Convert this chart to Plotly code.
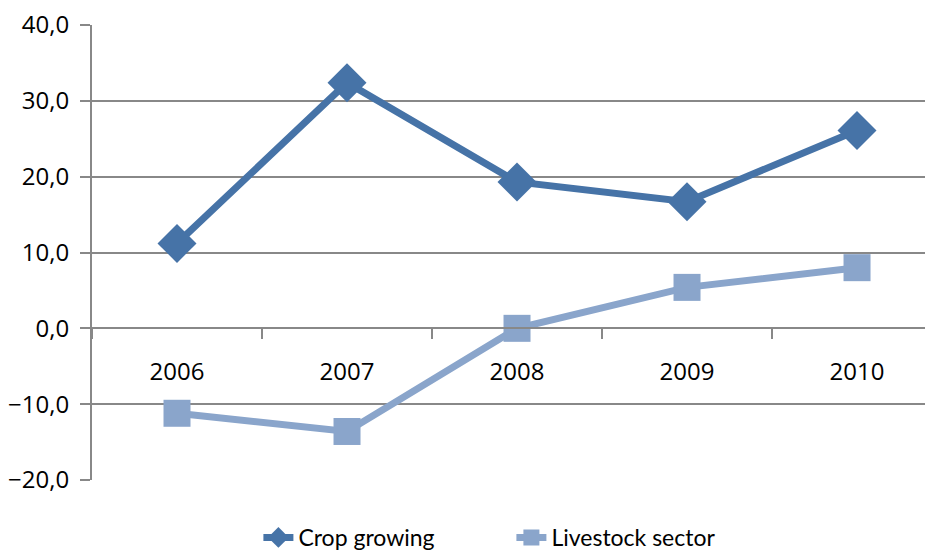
import plotly.graph_objects as go

years = ["2006", "2007", "2008", "2009", "2010"]
crop_growing = [11.2, 32.4, 19.3, 16.7, 26.1]
livestock_sector = [-11.2, -13.6, 0.0, 5.4, 8.0]

fig = go.Figure()
fig.add_trace(go.Scatter(
    x=years, y=crop_growing, name="Crop growing", mode="lines+markers",
    line=dict(color="#4673A7", width=7),
    marker=dict(symbol="diamond", size=30, color="#4673A7"),
))
fig.add_trace(go.Scatter(
    x=years, y=livestock_sector, name="Livestock sector", mode="lines+markers",
    line=dict(color="#8AA5CB", width=7),
    marker=dict(symbol="square", size=27, color="#8AA5CB"),
))

grid = "#888888"
# page body has an 8px margin, so the offsets below are shifted by that
fig.update_layout(
    width=933, height=551,
    margin=dict(l=84, r=0, t=17, b=75),
    plot_bgcolor="white", paper_bgcolor="white",
    separators=", ",
    font=dict(family="Open Sans", size=24, color="black"),
    showlegend=True,
    legend=dict(orientation="h", x=0.196, xanchor="left", y=-0.08, yanchor="top",
                font=dict(family="Lato", size=23), entrywidth=208, tracegroupgap=0),
    xaxis=dict(
        type="category", range=[-0.5, 4.494], automargin=False,
        anchor="free", position=1/3,
        showline=True, linecolor=grid, linewidth=2,
        ticks="outside", tickson="boundaries", ticklen=10, tickcolor=grid, tickwidth=2,
        showgrid=False, ticklabelstandoff=22,
    ),
    yaxis=dict(
        range=[-20, 40], dtick=10, tickformat=".1f", automargin=False,
        ticklabeloverflow="allow",
        showline=True, linecolor=grid, linewidth=2,
        showgrid=True, gridcolor=grid, gridwidth=2, zeroline=False,
        ticks="outside", ticklen=10, tickcolor=grid, tickwidth=2,
        ticklabelstandoff=6,
    ),
)

fig.write_html("out.html")
